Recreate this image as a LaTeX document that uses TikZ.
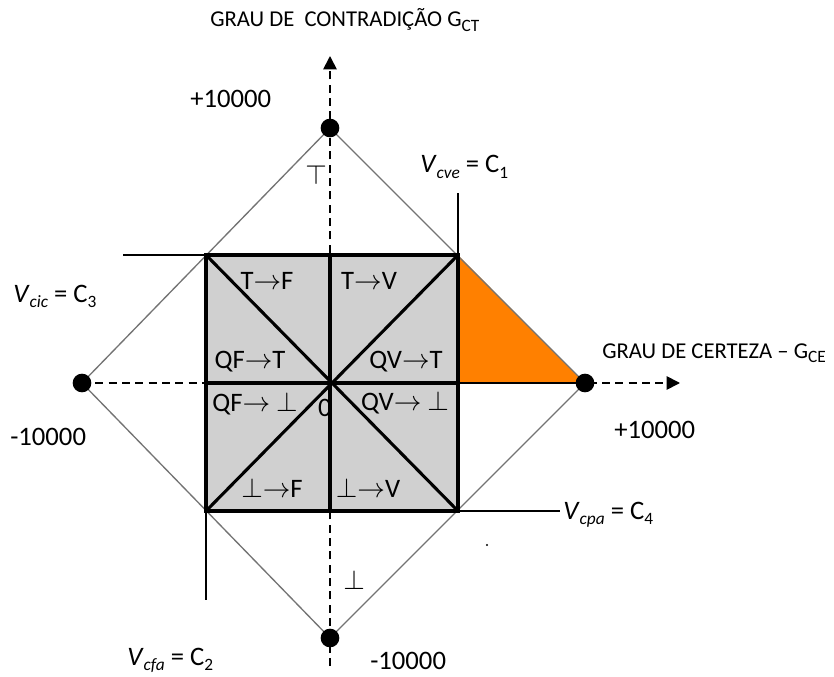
\documentclass[tikz,border=0pt]{standalone}
\usepackage{fontspec}
\setmainfont{Carlito}
\usepackage{amsmath}
\usepackage{amssymb}
\usepackage{tikz}
\usetikzlibrary{arrows.meta}

\definecolor{grigio}{RGB}{208,208,208}
\definecolor{arancio}{RGB}{255,128,0}
\newcommand{\pedice}[1]{\raisebox{-0.45ex}{\fontsize{13}{13}\selectfont #1}}

\begin{document}
\begin{tikzpicture}[x=0.75pt, y=-0.75pt,
          % Stile del rombo esterno
          rombo/.style={
              draw=black!55,
              line width=1pt
          },
          % Stile del quadrato centrale
          griglia/.style={
              draw=black,
              line width=2.3pt
          },
          % Stile degli assi tratteggiati
          asse/.style={
              dash pattern=on 6pt off 4pt,
              line width=1.3pt
          },
          % Stile per le frecce degli assi
          freccia/.style={
              -{Triangle[length=10pt, width=10pt]}
          },
          % Linee sottili di richiamo
          richiamo/.style={
              draw=black,
              line width=1pt
          },
          punto/.style={
              circle,
              fill=black,
              inner sep=0pt,
              minimum size=14pt
          },
          etichetta/.style={
              font=\fontsize{20}{22}\selectfont,
              inner sep=0pt
          },
          titolo/.style={
              font=\fontsize{17}{19}\selectfont,
              inner sep=0pt
          }
      ]
          \useasboundingbox (0,0) rectangle (834,677);

          % 1. Vertici del rombo e del quadrato
          \coordinate (O) at (330,383);
          \coordinate (vSup) at (330,128);
          \coordinate (vInf) at (330,638);
          \coordinate (vSx) at (82,383);
          \coordinate (vDx) at (585,383);
          \coordinate (c1) at (458,255);
          \coordinate (c2) at (206,511);
          \coordinate (c3) at (206,255);
          \coordinate (c4) at (458,511);

          % 2. Riempimenti (quadrato grigio e triangolo arancio)
          \fill [grigio] (c3) rectangle (c4);
          \fill [arancio] (c1) -- (vDx) -- (c1 |- O) -- cycle;

          % 3. Rombo esterno
          \draw [rombo] (vSup) -- (vDx) -- (vInf) -- (vSx) -- cycle;

          % 4. Assi tratteggiati
          \coordinate (fineX) at (680,383);
          \coordinate (inizioY) at (330,666);
          \coordinate (fineY) at (330,56);
          \draw [asse, freccia] (vSx) -- (fineX);
          \draw [asse, freccia] (inizioY) -- (fineY);

          % 5. Quadrato centrale con diagonali
          \draw [griglia] (c3) rectangle (c4);
          \draw [griglia] (c3 -| O) -- (c2 -| O);
          \draw [griglia] (c3 |- O) -- (c1 |- O);
          \draw [griglia] (c3) -- (c4);
          \draw [griglia] (c2) -- (c1);
          \draw [richiamo] (c1 |- O) -- (vDx);

          % 6. Linee di richiamo dei vertici
          \coordinate (e1) at (458,193);
          \coordinate (e2) at (206,600);
          \coordinate (e3) at (123,255);
          \coordinate (e4) at (560,511);
          \draw [richiamo] (c1) -- (e1);
          \draw [richiamo] (c2) -- (e2);
          \draw [richiamo] (c3) -- (e3);
          \draw [richiamo] (c4) -- (e4);

          % 7. Punti sugli assi
          \node [punto] (pSup) at (vSup) {};
          \node [punto] (pInf) at (vInf) {};
          \node [punto] (pSx) at (vSx) {};
          \node [punto] (pDx) at (vDx) {};
          \fill (487,545) circle (0.8pt);

          % 8. Titoli degli assi
          \node [titolo, anchor=base west] (tGct) at (210,27) {GRAU DE \ CONTRADIÇÃO G\pedice{CT}};
          \node [titolo, anchor=base west] (tGce) at (602,358) {GRAU DE CERTEZA -- G\pedice{CE}};

          % 9. Valori estremi
          \node [etichetta, anchor=base west] (vmax) at (190,108) {+10000};
          \node [etichetta, anchor=base west] (vmin) at (370,669) {-10000};
          \node [etichetta, anchor=base west] (hmin) at (10,445) {-10000};
          \node [etichetta, anchor=base west] (hmax) at (614,438) {+10000};
          \node [etichetta] (topo) at (316,175) {$\top$};
          \node [etichetta] (fondo) at (354,580) {$\bot$};

          % 10. Vertici C1..C4
          \node [etichetta, anchor=base west] (lc1) at (420,173) {\textit{V}\pedice{\textit{cve}} = C\pedice{1}};
          \node [etichetta, anchor=base west] (lc3) at (13,302) {\textit{V}\pedice{\textit{cic}} = C\pedice{3}};
          \node [etichetta, anchor=base west] (lc4) at (563,519) {\textit{V}\pedice{\textit{cpa}} = C\pedice{4}};
          \node [etichetta, anchor=base west] (lc2) at (127,665) {\textit{V}\pedice{\textit{cfa}} = C\pedice{2}};

          % 11. Regioni interne del quadrato
          \node [etichetta] (tf) at (267,281) {T$\rightarrow$F};
          \node [etichetta] (tv) at (369,281) {T$\rightarrow$V};
          \node [etichetta] (qft) at (250,362) {QF$\rightarrow$T};
          \node [etichetta] (qvt) at (406,362) {QV$\rightarrow$T};
          \node [etichetta] (qfb) at (255,404) {QF$\rightarrow$ $\bot$};
          \node [etichetta] (qvb) at (405,403) {QV$\rightarrow$ $\bot$};
          \node [etichetta] (bf) at (272,488) {$\bot$$\rightarrow$F};
          \node [etichetta] (bv) at (368,488) {$\bot$$\rightarrow$V};
          \node [etichetta] (zero) at (325,408) {0};

      \end{tikzpicture}
\end{document}
